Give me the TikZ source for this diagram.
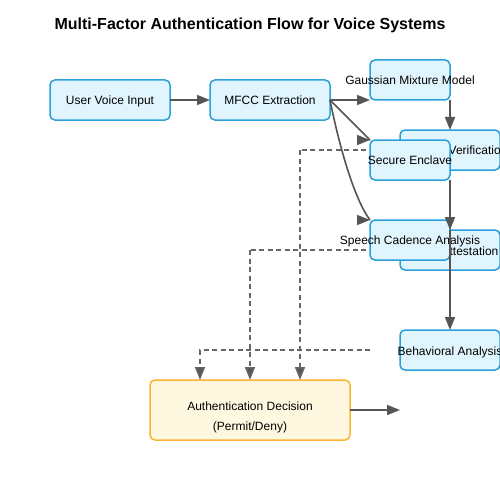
\documentclass[tikz,border=0pt]{standalone}
\usepackage{fontspec}
\setmainfont{Liberation Sans}
\usetikzlibrary{arrows.meta}
\definecolor{boxfill}{HTML}{E1F5FE}
\definecolor{boxline}{HTML}{2B9FD9}
\definecolor{decfill}{HTML}{FFF8E1}
\definecolor{decline}{HTML}{FBB330}
\definecolor{edgecol}{HTML}{555555}
\definecolor{dashcol}{HTML}{666666}
\begin{document}
\begin{tikzpicture}[x=1pt,y=-1pt,
  box/.style={draw=boxline, fill=boxfill, line width=1.5pt, rounded corners=5pt,
    minimum width=#1, minimum height=40pt, inner sep=0pt, outer sep=0pt},
  box/.default=100pt,
  decbox/.style={draw=decline, fill=decfill, line width=1.5pt, rounded corners=5pt,
    minimum width=200pt, minimum height=60pt, inner sep=0pt, outer sep=0pt},
  txt/.style={inner sep=0pt, anchor=base, font=\fontsize{12}{14}\selectfont},
  flow/.style={draw=edgecol, line width=1.6pt, -{Triangle[length=13pt,width=10pt]}},
  plain/.style={draw=edgecol, line width=1.6pt},
  dflow/.style={draw=dashcol, line width=1.6pt, dash pattern=on 5pt off 3.5pt,
    -{Triangle[length=13pt,width=10pt,fill=edgecol]}},
  dplain/.style={draw=dashcol, line width=1.6pt, dash pattern=on 5pt off 3.5pt}]
\useasboundingbox (0,0) rectangle (500,500);
\fill[white] (0,0) rectangle (500,500);
% title
\node[anchor=base, inner sep=0pt, font=\fontsize{16}{19}\selectfont\bfseries] (title) at (250,30) {Multi-Factor Authentication Flow for Voice Systems};
% layered nodes (back to front)
\node[box=80pt] (gmm) at (410,80) {};
\node[txt] (gmmt) at (410,84.3) {Gaussian Mixture Model};
\node[box] (verif) at (450,150) {};
\node[txt] (verift) at (450,154.3) {Voiceprint Verification};
\node[box] (attest) at (450,250) {};
\node[txt] (attestt) at (450,255) {Device Attestation};
\draw[dplain] (attest.west) -- (250,250);
\node[box=80pt] (cad) at (410,240) {};
\node[txt] (cadt) at (410,244.3) {Speech Cadence Analysis};
\draw[dplain] (verif.west) -- (300,150);
\node[box=80pt] (se) at (410,160) {};
\node[txt] (set) at (410,164.3) {Secure Enclave};
\node[box] (behav) at (450,350) {};
\node[txt] (behavt) at (450,355) {Behavioral Analysis};
\node[box=120pt] (user) at (110,100) {};
\node[txt] (usert) at (110,104.3) {User Voice Input};
\node[box=120pt] (mfcc) at (270,100) {};
\node[txt] (mfcct) at (270,104.3) {MFCC Extraction};
\node[decbox] (auth) at (250,410) {};
\node[txt] (autht) at (250,410) {Authentication Decision};
\node[txt] (authd) at (250,430) {(Permit/Deny)};
\coordinate (behsrc) at (370,350);
\coordinate (out) at (400,410);
% connectors
\draw[flow] (user.east) -- (mfcc.west);
\draw[flow] (mfcc.east) -- (gmm.south west);
\draw[plain] (mfcc.east) -- (se.north west);
\draw[flow] ([xshift=-13pt]se.north west) -- (se.north west);
\draw[plain] (mfcc.east) .. controls (340,150) and (355,200) .. (cad.north west);
\draw[flow] ([xshift=-13pt]cad.north west) -- (cad.north west);
\draw[flow] (gmm.south east) -- (verif.north);
\draw[flow] (se.south east) -- (attest.north);
\draw[flow] (attest.north) -- (behav.north);
\draw[dflow] (300,150) -- (auth.north -| 300,0);
\draw[dflow] (250,250) -- (auth.north);
\draw[dflow] (behsrc) -- (200,350) -- (auth.north -| 200,0);
\draw[flow] (auth.east) -- (out);
\end{tikzpicture}
\end{document}
